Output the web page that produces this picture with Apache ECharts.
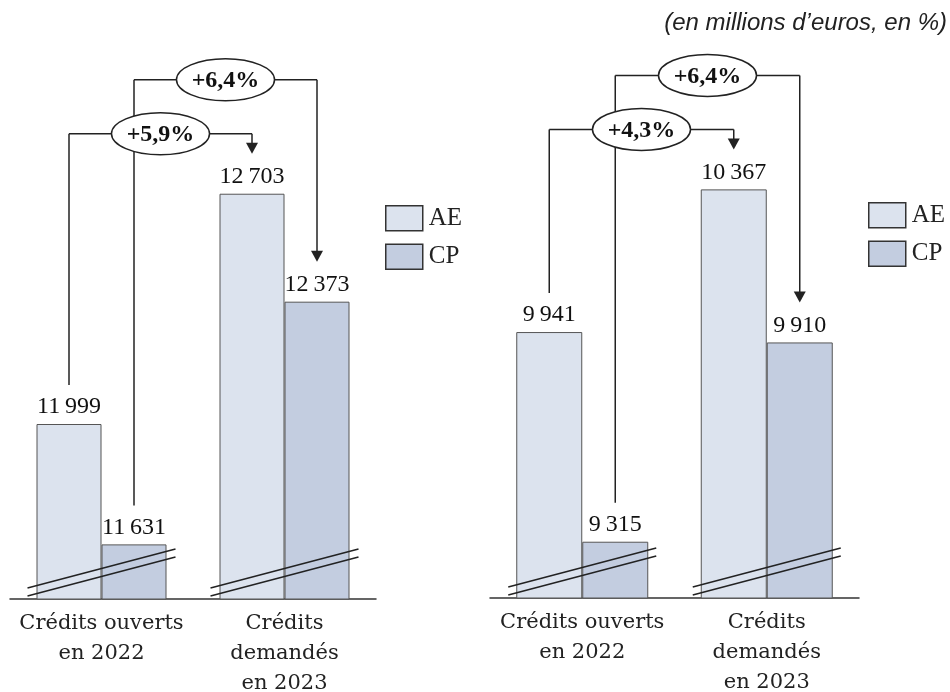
<!DOCTYPE html>
<html><head><meta charset="utf-8">
<script src="https://cdn.jsdelivr.net/npm/echarts@6/dist/echarts.min.js"></script>
<style>html,body{margin:0;padding:0;background:#fff}#c{width:950px;height:692px}</style>
</head><body><div id="c"></div>
<script>
// ---- data ----
const categories = ['Crédits ouverts\nen 2022', 'Crédits\ndemandés\nen 2023'];
const seriesNames = ['AE', 'CP'];
const leftAE = [11999, 12703];
const leftCP = [11631, 12373];
const rightAE = [9941, 10367];
const rightCP = [9315, 9910];
const leftChangeLabels = ['+5,9%', '+6,4%'];   // AE, CP
const rightChangeLabels = ['+4,3%', '+6,4%'];  // AE, CP
const unitNote = '(en millions d\u2019euros, en %)';

// ---- style ----
const SERIF = 'DejaVu Serif';
const NUMSERIF = 'Liberation Serif';
const AE_COLOR = '#dce3ee';
const CP_COLOR = '#c3cde0';
const INK = '#222';
const fmt = v => String(v).replace(/\B(?=(\d{3})+(?!\d))/g, '\u2009');

const chart = echarts.init(document.getElementById('c'), null, {renderer: 'canvas'});

function barSeries(name, data, idx, color, bw) {
  return {
    type: 'bar', name: name, data: data,
    xAxisIndex: idx, yAxisIndex: idx,
    barWidth: bw, barGap: '0%',
    itemStyle: {color: color, borderColor: '#555', borderWidth: 1},
    label: {show: true, position: 'top', distance: 5, formatter: p => fmt(p.value),
            fontFamily: NUMSERIF, fontSize: 24, color: '#111'},
    silent: true, animation: false
  };
}
function xAxis(idx) {
  return {type: 'category', gridIndex: idx, data: categories,
    axisLine: {lineStyle: {color: '#333', width: 1.5}}, axisTick: {show: false},
    axisLabel: {interval: 0, fontFamily: SERIF, fontSize: 21, color: INK, lineHeight: 30, margin: 10}};
}
function yAxis(idx, min, max) {
  return {type: 'value', gridIndex: idx, min: min, max: max, show: false, splitLine: {show: false}};
}
function legend(left, top) {
  return {orient: 'vertical', left: left, top: top, data: seriesNames, selectedMode: false,
    icon: 'rect', itemWidth: 37, itemHeight: 25, itemGap: 12,
    itemStyle: {borderColor: '#333', borderWidth: 1.5},
    textStyle: {fontFamily: NUMSERIF, fontSize: 25, color: INK, padding: [0, 0, 0, 1]}};
}

const BW = [65, 66];
chart.setOption({
  animation: false,
  title: {text: unitNote, right: -2, top: 6,
    textStyle: {fontStyle: 'italic', fontWeight: 'normal', fontFamily: 'Liberation Sans', fontSize: 24, color: INK}},
  legend: [legend(380, 200), legend(863, 197)],
  grid: [
    {left: 10, width: 366, top: 40, height: 559, outerBoundsMode: 'none', containLabel: false},
    {left: 490, width: 369, top: 40, height: 558, outerBoundsMode: 'none', containLabel: false}
  ],
  xAxis: [xAxis(0), xAxis(1)],
  yAxis: [yAxis(0, 11464, 13173), yAxis(1, 9147, 10813)],
  series: [
    barSeries('AE', leftAE, 0, AE_COLOR, BW[0]),
    barSeries('CP', leftCP, 0, CP_COLOR, BW[0]),
    barSeries('AE', rightAE, 1, AE_COLOR, BW[1]),
    barSeries('CP', rightCP, 1, CP_COLOR, BW[1])
  ]
});

// ---- annotations computed from the library's scales ----
const graphics = [];
const LINE = {stroke: INK, lineWidth: 1.5};
function addLine(x1, y1, x2, y2) {
  graphics.push({type: 'line', shape: {x1, y1, x2, y2}, style: LINE, z: 10, silent: true});
}
const panels = [
  {g: 0, ae: leftAE, cp: leftCP, labels: leftChangeLabels, bw: BW[0], min: 11464},
  {g: 1, ae: rightAE, cp: rightCP, labels: rightChangeLabels, bw: BW[1], min: 9147}
];
panels.forEach(p => {
  const px = (cat, v) => chart.convertToPixel({gridIndex: p.g}, [cat, v]);
  const axisY = px(0, p.min)[1];
  const maxTop = px(0, Math.max(...p.ae, ...p.cp))[1];
  [p.ae, p.cp].forEach((vals, s) => {
    const off = (s === 0 ? -1 : 1) * p.bw / 2;
    const a = px(0, vals[0]); const b = px(1, vals[1]);
    const xa = a[0] + off, xb = b[0] + off;
    const yLevel = maxTop - (s === 0 ? 60 : 114);
    const startY = a[1] - 39;
    const tipY = b[1] - 40;
    addLine(xa, startY, xa, yLevel);
    addLine(xa, yLevel, xb, yLevel);
    addLine(xb, yLevel, xb, tipY - 10);
    graphics.push({type: 'polygon', shape: {points: [[xb - 6, tipY - 11], [xb + 6, tipY - 11], [xb, tipY]]},
      style: {fill: INK}, z: 10, silent: true});
    const cx = (xa + xb) / 2;
    graphics.push({type: 'ellipse', shape: {cx: cx, cy: yLevel, rx: 49, ry: 21},
      style: {fill: '#fff', stroke: INK, lineWidth: 1.5}, z: 11, silent: true});
    graphics.push({type: 'text', x: cx, y: yLevel + 1, style: {text: p.labels[s], fill: '#111',
      font: 'bold 24px "Liberation Serif"', align: 'center', verticalAlign: 'middle'}, z: 12, silent: true});
  });
  // broken-axis marks
  [0, 1].forEach(cat => {
    const c = px(cat, p.min)[0];
    addLine(c - 74, axisY - 11, c + 74, axisY - 50);
    addLine(c - 74, axisY - 3, c + 74, axisY - 42);
  });
});
chart.setOption({graphic: graphics});
</script></body></html>
